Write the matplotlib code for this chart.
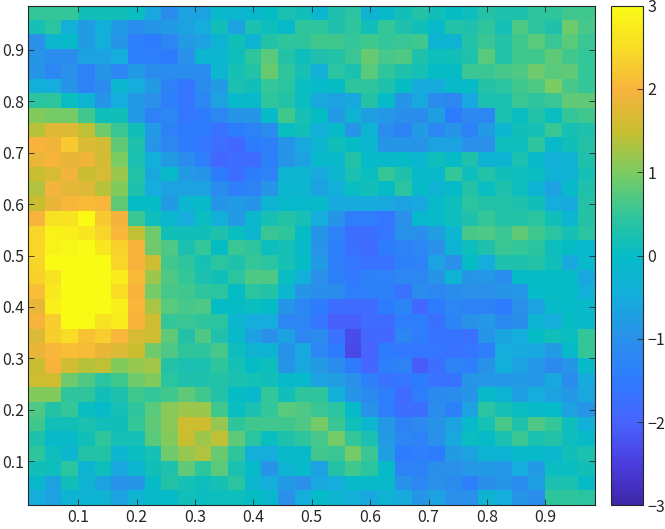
import matplotlib
matplotlib.use("Agg")
import matplotlib.pyplot as plt
from matplotlib.colors import LinearSegmentedColormap

plt.rcParams['font.family'] = ['Noto Sans CJK JP', 'DejaVu Sans']

# heat values, top row first, 34 x 34 cells
row_00 = [.5,.5,.5,.15,.15,.15,.05,-.6,-1.1,-.7,-.7,-.1,-.2,-.15,0,.25,.15,-.2,.3,.4,-.3,-.1,.15,.35,.15,0,.1,.35,.3,.3,.45,.45,.6,.6]
row_01 = [.2,.4,-.4,-.8,-.4,-.8,-1.1,-.9,-.8,-.7,-.5,.15,-.7,.25,.1,-.1,.45,.45,.3,.45,.15,.5,.3,.15,-.1,.35,.3,.45,.2,.7,.45,.3,.9,.65]
row_02 = [-1,-.2,-.1,-.8,-.4,-.9,-1.4,-1.5,-1.2,-.8,-.7,-.3,.15,-.3,.35,.45,.45,.6,.6,.5,.6,.5,.55,.6,-.3,-.3,.35,.55,.35,.6,.75,.55,.75,.55]
row_03 = [-.9,-1.1,-1.1,-.7,-.7,-.5,-1.4,-1.4,-1.5,-1,-.2,-.2,.1,.45,.75,.35,.1,.3,.35,.55,.85,.65,.7,.3,.1,.15,.3,.75,.35,.6,.6,.8,.6,.5]
row_04 = [-.9,-1.2,-1,-1.3,-.9,-1.2,-.8,-1.1,-1.1,-1.1,-1.1,-.2,.2,.35,.85,.45,.2,-.4,.4,.25,.75,.45,.3,.2,0,0,.55,.55,.65,.7,.9,.75,.8,.5]
row_05 = [-.4,-.5,-.9,-1.3,-1.1,-.2,-.5,-.8,-1.3,-1.6,-1.1,-.8,.25,.15,.5,.4,.05,-.1,0,.45,.45,.3,0,-.55,-.55,-.1,-.05,.35,.4,.6,.7,1,.65,.5]
row_06 = [.4,.45,.05,-.3,-.9,-.5,-.8,-1,-1.4,-1.6,-1.2,-.7,-.1,-.05,.45,.35,.05,-.6,-.7,-.6,.35,-.05,-.9,-.6,-1.1,-1.2,-.6,.25,.25,.55,.45,.55,.8,.8]
row_07 = [1.05,.95,.95,.6,.1,.15,-.8,-1.3,-1.2,-1.6,-1.5,-1.2,-.9,-.9,-.1,.6,.2,0,-.8,-.3,-.75,-.85,-1.05,-1.1,-.75,-1.5,-1.15,-1.2,.25,.05,.35,.05,.5,.6]
row_08 = [1.4,1.75,1.7,1.45,.9,.55,.15,-.8,-1.3,-1.5,-1.5,-1.7,-1.5,-1.3,-1.1,.05,.15,-.4,-.1,-.9,-.3,-1.1,-1.3,-.8,-1.2,-.9,-1.3,-.8,-.2,.15,.2,.55,.2,.3]
row_09 = [2,1.9,2.25,1.7,1.6,.8,.3,-.9,-1.2,-1.5,-1.6,-1.8,-1.9,-1.5,-1.4,-.9,-.6,-.2,.15,0,-.2,-.9,-.9,-.9,-.7,-.7,-1,-1,.1,.1,.45,-.1,.15,.35]
row_10 = [1.85,2,1.85,1.9,1.6,1,.25,-.4,-.8,-1.1,-1.4,-1.9,-1.8,-1.85,-1.35,-.9,-.7,-.1,-.1,.35,-.05,-.1,-.05,-.2,.1,-.05,.3,-.3,-.3,.25,-.1,-.4,-.3,.3]
row_11 = [1.5,1.65,1.95,1.5,1.65,1.2,.35,-.6,-.1,-.8,-.9,-1.5,-1.8,-1.5,-1.3,-.3,-.2,-.6,-.2,.25,.05,.5,.3,-.05,-.1,.5,.1,.35,.15,.1,.05,-.35,-.3,.2]
row_12 = [1.35,1.95,1.8,1.75,1.4,1.05,.3,-.5,-.7,-.7,-.7,-1.1,-1.4,-1.3,-.9,-.2,-.2,-.7,-.4,.05,.15,0,.4,-.05,-.3,-.05,.35,.05,.3,.1,-.3,-.7,-.1,.3]
row_13 = [1.5,1.85,2.05,2.1,2.05,.8,0,0,-.8,-.2,-.1,-.9,-.8,-.9,-.3,-.1,-.15,-.1,-.55,-.55,-.55,-.6,-.7,-.6,-.05,.1,.4,.35,.35,.3,.15,-.5,-.55,.35]
row_14 = [2,2.55,2.6,3,2.25,1.95,.55,.1,-.2,-.5,.05,-.4,-.8,-.2,.2,.35,.2,-.5,-.9,-1.45,-1.45,-1.6,-1,-.15,-.1,.1,.3,.5,.35,.35,.4,.15,-.2,.35]
row_15 = [2.4,2.85,2.8,2.65,2.4,2.05,1.45,.9,.15,.15,.15,.3,.05,-.2,.55,.45,0,-.9,-1.3,-1.8,-1.75,-1.6,-.95,-1.05,-.75,-.25,.65,.7,.55,.8,.6,.4,.2,.4]
row_16 = [2.4,2.85,2.9,3,2.65,2.35,2,.9,.7,.25,.5,0,.55,.45,.1,.2,-.1,-.9,-1.4,-1.75,-1.85,-1.5,-1.3,-1.2,-1,-.3,.1,.3,.55,.5,.4,.1,0,-.15]
row_17 = [2.4,3,3,3,3,2.4,2,1.55,.6,.45,.2,.4,.3,.5,.4,.2,0,-.8,-1.4,-1.6,-1.7,-1.7,-1.4,-1.3,-.7,-1,0,-.5,.3,.3,.35,.15,-.6,-.1]
row_18 = [2.35,2.6,3,3,3,2.75,2.1,1.2,.7,.5,.25,.15,.4,.7,.7,.05,-.4,-1,-1.35,-1.55,-1.35,-1.3,-1.2,-1.2,-.9,-.3,-.9,-.85,-1.1,0,0,0,0,-.6]
row_19 = [2.15,2.7,3,3,3,2.5,2,.95,.65,.6,.45,.4,0,.4,.35,-.2,-.9,-1.05,-1.1,-1.45,-1.4,-1.35,-1.7,-1.1,-1.2,-1.1,-1,-1,-.9,-.85,-.05,0,0,-.4]
row_20 = [1.85,2.8,3,3,3,2.8,2.05,1.3,.75,.65,.7,0,0,.05,0,-.9,-1.2,-1.5,-1.8,-1.85,-1.85,-1.5,-1.25,-1.9,-1.5,-1.2,-1.3,-1.3,-1.5,-1,-.7,-.05,-.05,-.1]
row_21 = [2,2.3,3,3,2.55,2.75,2,1.55,.5,.55,.45,.4,-.2,-.5,-.5,-1.2,-1.2,-1.6,-2.05,-2.05,-1.85,-1.85,-1.45,-1.45,-1.75,-1.25,-.95,-.85,-1.15,-1.05,-.3,-.5,0,-.1]
row_22 = [1.7,2.3,2.5,2.2,2.3,2.05,1.65,1.55,.8,.35,.7,.3,-.1,-.7,-1,-.7,-1.2,-1.1,-1.7,-2.3,-1.9,-1.9,-1.2,-1.45,-1.65,-1.65,-1.75,-.9,-.65,-.5,0,.15,.05,.5]
row_23 = [1.85,2.05,2.15,2.1,1.85,1.7,1.5,.9,.7,.45,.45,.65,.1,-.3,-.3,-.95,-.6,-1.2,-1.5,-2.35,-2,-1.5,-1.55,-1.6,-1.6,-1.7,-1.6,-1.45,-.5,-.55,-.6,-.8,-.1,.5]
row_24 = [1.5,2,1.6,1.4,1.45,1.05,1.15,1.25,.35,.25,.25,.45,.2,0,.1,-.9,-.6,-.8,-1.1,-1.5,-1.95,-1.4,-1.3,-2.1,-1.75,-1.3,-1.4,-.95,-.4,-.7,-.85,-1.15,-.9,-.05]
row_25 = [1.55,1.55,.9,.7,.4,.6,.9,1.05,.4,.3,.3,.35,.25,.2,.15,-.1,-.1,-.7,-.75,-1,-1.4,-1.7,-1.6,-1.5,-1.7,-1.65,-.9,-.85,-.85,-.8,-.85,-.6,-1.1,-.55]
row_26 = [1.05,1.05,.45,.45,.15,.3,.6,.5,.6,.8,.6,.35,0,-.1,.5,.15,.45,.45,-.4,-.9,-1.15,-1.45,-1.85,-1.45,-1.15,-1.1,-.9,-.05,-.3,-.75,-.5,-.7,-.85,-.6]
row_27 = [.7,.35,.5,.05,-.05,.2,.45,.75,1.1,1.2,1.2,.6,.05,.25,.5,.75,.7,.55,.4,-.05,-.95,-1.45,-1.8,-1.75,-1.1,-1.35,-.7,.4,.2,.05,-.1,-.05,-.7,-.9]
row_28 = [.6,.15,.15,.25,.15,.15,.5,.8,1.1,1.55,1.55,1.15,.45,.6,.6,.6,.7,.95,.55,.15,-.2,-.85,-1.3,-1.15,-.95,-.7,-.1,.2,.65,.3,.7,.5,.1,-.4]
row_29 = [.3,-.1,-.1,.15,.45,.2,.2,.75,1.05,1.5,1.2,1.45,.8,.4,.05,.3,.45,.65,.95,.5,.25,-.8,-1.2,-1.3,-1,-.6,.05,-.05,.25,.55,.25,.35,.1,-.05]
row_30 = [.45,.1,-.2,.35,.35,-.2,.05,.2,.9,1.15,1.35,.85,.45,-.4,-.5,-.1,-.1,.6,.55,.95,.55,-.75,-1.5,-1.4,-1.5,-.8,-.7,-.3,-.3,-.1,-.1,-.2,.15,.25]
row_31 = [.15,.1,.4,-.3,.1,-.6,-.2,.15,.3,.8,.45,.75,.25,-.1,-.9,-.3,-.1,-.7,.35,.6,.4,-.05,-1.3,-1.3,-1.05,-1,-.85,-.8,-.85,-.5,-.8,.05,.05,.15]
row_32 = [-.15,-.7,.15,-.3,-.7,-.95,-.9,-.05,.35,.2,.1,.2,.4,-.2,-.5,-.8,-1,-.6,-.5,-.1,-.05,-.1,-.95,-1.2,-1,-1.1,-1.4,-1.05,-.9,-1.1,-.75,.25,.25,-.05]
row_33 = [-.5,-.7,-.3,-.3,-.3,-.7,-.3,-.1,-.05,.15,.05,.1,.1,0,-.15,-1,-.5,-.05,-.3,-.4,-.6,-.3,-.55,-.9,-.7,-1,-1,-.3,-.5,-.9,-1.05,.45,.45,.4]

values = [row_00, row_01, row_02, row_03, row_04, row_05, row_06, row_07, row_08,
          row_09, row_10, row_11, row_12, row_13, row_14, row_15, row_16, row_17,
          row_18, row_19, row_20, row_21, row_22, row_23, row_24, row_25, row_26,
          row_27, row_28, row_29, row_30, row_31, row_32, row_33]

ticks = [0.1, 0.2, 0.3, 0.4, 0.5, 0.6, 0.7, 0.8, 0.9]
tick_labels = ["0.1", "0.2", "0.3", "0.4", "0.5", "0.6", "0.7", "0.8", "0.9"]
cbar_ticks = [-3, -2, -1, 0, 1, 2, 3]
cbar_labels = ["\u22123", "\u22122", "\u22121", "0", "1", "2", "3"]

# parula-like map, colours taken from the colorbar
parula = LinearSegmentedColormap.from_list("parula_like", [
    "#3e26a8", "#4a3ee0", "#4765ff", "#2f7cff", "#2a90ea", "#15aedc", "#05bcc6",
    "#32c69a", "#7ccc62", "#c8bf30", "#f8b33e", "#f8dd25", "#f9fb15"], N=256)

W, H = 665, 529
INK = "#262626"

fig = plt.figure(figsize=(W / 100, H / 100), dpi=100)
ax = fig.add_axes([28.3 / W, 1 - 505.3 / H, 567 / W, 499.6 / H])
cax = fig.add_axes([611 / W, 1 - 505.3 / H, 32 / W, 499.6 / H])

im = ax.imshow(values, cmap=parula, vmin=-3, vmax=3, aspect="auto",
               interpolation="nearest", extent=[1 / 70, 69 / 70, 1 / 70, 69 / 70])

ax.set_xticks(ticks, tick_labels)
ax.set_yticks(ticks, tick_labels)
ax.tick_params(direction="in", length=4.2, width=0.6, top=True, right=True,
               labelsize=11.5, colors=INK, pad=3)
for s in ax.spines.values():
    s.set_linewidth(0.8)
    s.set_color(INK)

cb = fig.colorbar(im, cax=cax)
cb.set_ticks(cbar_ticks, labels=cbar_labels)
cb.ax.tick_params(direction="in", length=4.2, width=0.6, labelsize=11.5, colors=INK, pad=3)
cb.outline.set_linewidth(0.8)
cb.outline.set_edgecolor(INK)

fig.savefig("out.png", dpi=100)
